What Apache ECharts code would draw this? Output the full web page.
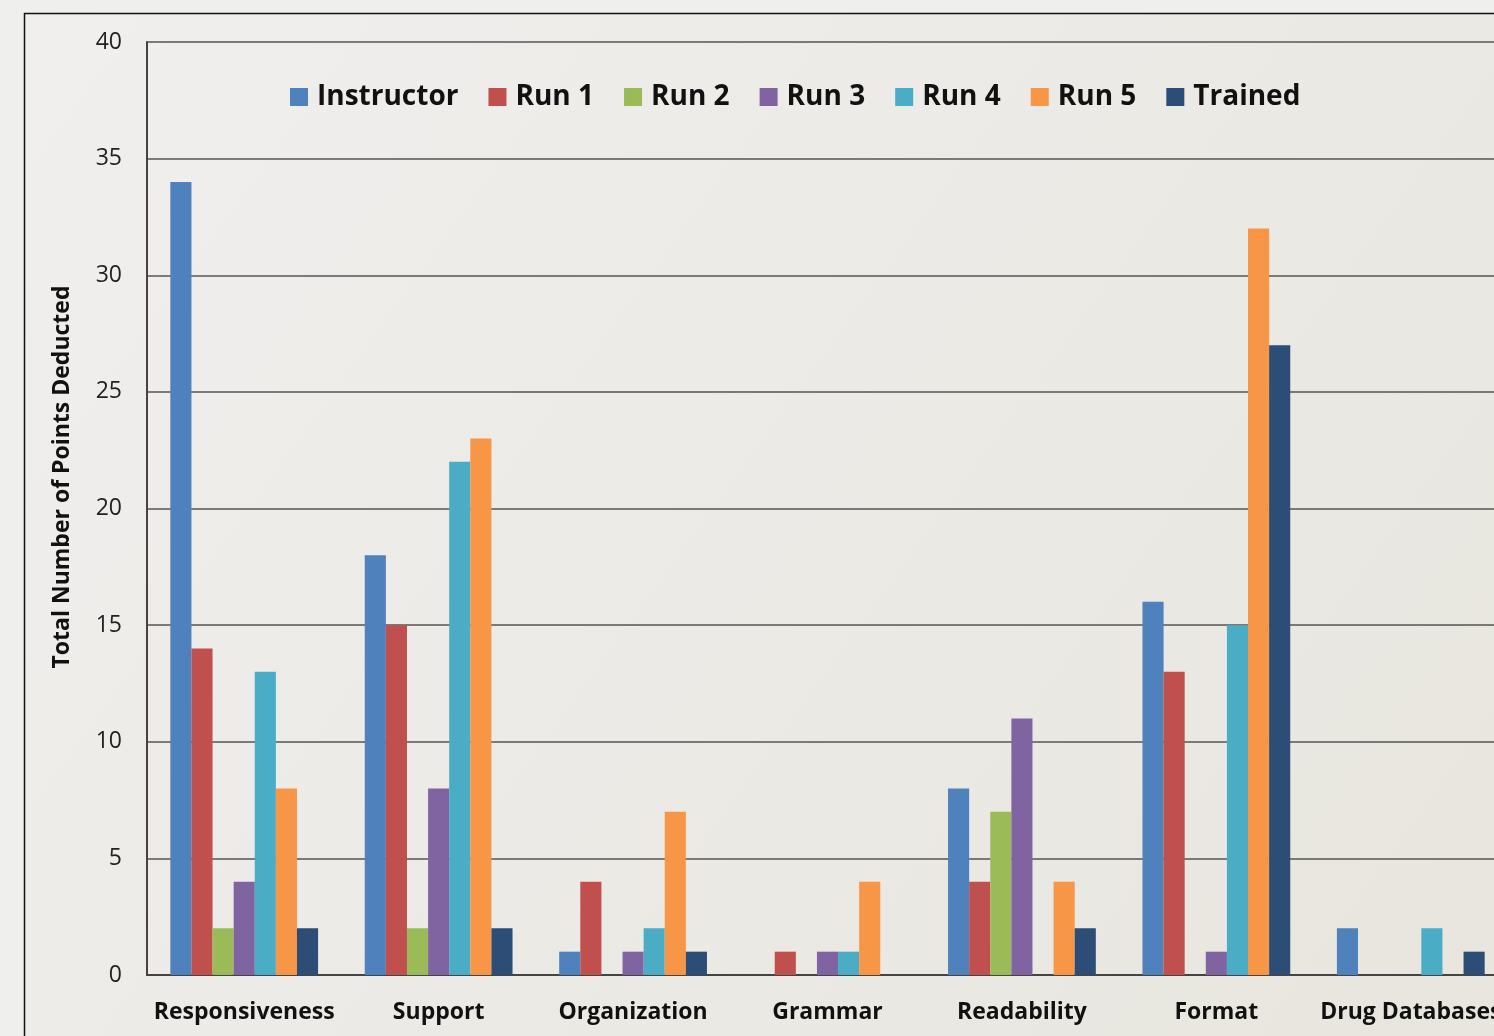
<!DOCTYPE html>
<html>
<head>
<meta charset="utf-8">
<script src="https://cdn.jsdelivr.net/npm/echarts@6/dist/echarts.min.js"></script>
<style>
	html, body { margin: 0; padding: 0; background: #efefee; }
	#chart { width: 1494px; height: 1036px; }
</style>
</head>
<body>
<div id="chart"></div>
<script>
// 类别与数值
var categories = ['Responsiveness', 'Support', 'Organization', 'Grammar', 'Readability', 'Format', 'Drug Databases'];
var seriesNames = ['Instructor', 'Run 1', 'Run 2', 'Run 3', 'Run 4', 'Run 5', 'Trained'];
var instructor = [34, 18, 1, 0, 8, 16, 2];
var run1 = [14, 15, 4, 1, 4, 13, 0];
var run2 = [2, 2, 0, 0, 7, 0, 0];
var run3 = [4, 8, 1, 1, 11, 1, 0];
var run4 = [13, 22, 2, 1, 0, 15, 2];
var run5 = [8, 23, 7, 4, 4, 32, 0];
var trained = [2, 2, 1, 0, 2, 27, 1];
var yTicks = [0, 5, 10, 15, 20, 25, 30, 35, 40];

var colors = ['#4f81bd', '#c0504d', '#9bbb59', '#8064a2', '#4bacc6', '#f79646', '#2c4d75'];
var allData = [instructor, run1, run2, run3, run4, run5, trained];
var fontName = '"Open Sans", "Noto Sans", sans-serif';

var myChart = echarts.init(document.getElementById('chart'));

var series = [];
for (var i = 0; i < seriesNames.length; i++) {
	series.push({
		name: seriesNames[i],
		type: 'bar',
		data: allData[i],
		barGap: '0%',
		barCategoryGap: '24%',
		itemStyle: { color: colors[i] },
		z: 3
	});
}

var option = {
	backgroundColor: '#efefee',
	animation: false,
	color: colors,
	graphic: [{
		type: 'rect',
		z: -10,
		silent: true,
		shape: { x: 24.5, y: 13.5, width: 1520, height: 1100 },
		style: {
			fill: new echarts.graphic.LinearGradient(0, 0, 1, 1, [
				{ offset: 0, color: '#f0efee' },
				{ offset: 1, color: '#e7e5dd' }
			]),
			stroke: '#111',
			lineWidth: 1.5
		}
	}, {
		//纵轴标题
		type: 'text',
		silent: true,
		x: 62,
		y: 477,
		rotation: Math.PI / 2,
		style: {
			text: 'Total Number of Points Deducted',
			font: 'bold 23px "Open Sans", "Noto Sans", sans-serif',
			fill: '#111',
			align: 'center',
			verticalAlign: 'middle'
		}
	}],
	legend: {
		left: 285,
		top: 78,
		itemWidth: 18,
		itemHeight: 18,
		itemGap: 30,
		icon: 'rect',
		textStyle: { fontFamily: fontName, fontSize: 28, fontWeight: 'bold', color: '#111', padding: [0, 0, 0, 4] },
		data: seriesNames
	},
	grid: { left: 147, top: 42, right: -14, bottom: 61, outerBoundsMode: 'none' },
	xAxis: {
		type: 'category',
		data: categories,
		axisLine: { show: true, lineStyle: { color: '#444', width: 2 } },
		axisTick: { show: false },
		axisLabel: {
			interval: 0,
			margin: 26,
			fontFamily: fontName,
			fontSize: 23,
			fontWeight: 'bold',
			color: '#111',
			hideOverlap: false
		}
	},
	yAxis: {
		type: 'value',
		min: 0,
		max: 40,
		interval: 5,
		axisLine: { show: true, lineStyle: { color: '#444', width: 2 } },
		axisTick: { show: false },
		splitLine: { show: true, lineStyle: { color: '#555', width: 1.6 } },
		axisLabel: {
			margin: 25,
			fontFamily: fontName,
			fontSize: 23,
			color: '#222',
			formatter: function(v) { return yTicks.indexOf(v) >= 0 ? String(v) : ''; }
		}
	},
	series: series
};

myChart.setOption(option);
</script>
</body>
</html>
